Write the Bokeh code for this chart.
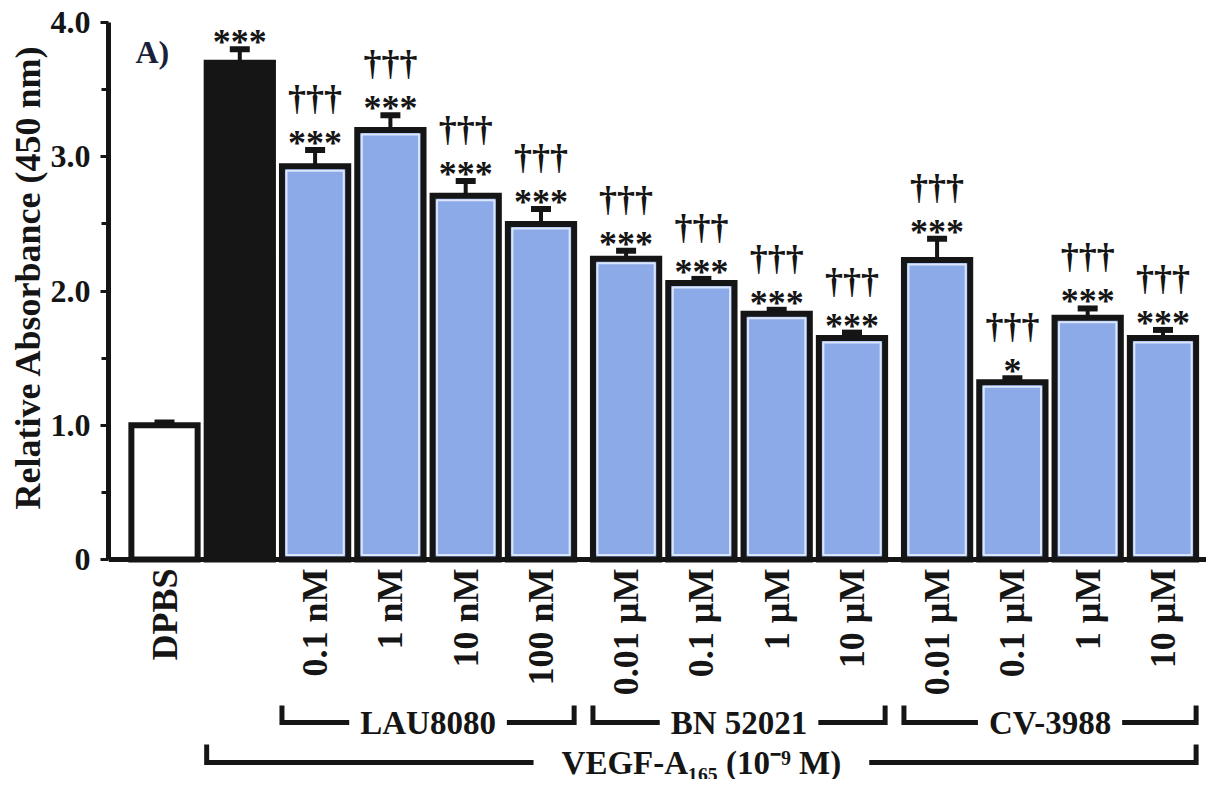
from math import pi
from bokeh.plotting import figure
from bokeh.models import (Range1d, FixedTicker, ColumnDataSource, Whisker, TeeHead,
                          Label, Span, PrintfTickFormatter, Title)
from bokeh.embed import file_html
from bokeh.resources import INLINE

# ---------------- data ----------------
labels = ["DPBS", "", "0.1 nM", "1 nM", "10 nM", "100 nM",
          "0.01 µM", "0.1 µM", "1 µM", "10 µM",
          "0.01 µM", "0.1 µM", "1 µM", "10 µM"]
groups = ["DPBS", "VEGF", "LAU8080", "LAU8080", "LAU8080", "LAU8080",
          "BN 52021", "BN 52021", "BN 52021", "BN 52021",
          "CV-3988", "CV-3988", "CV-3988", "CV-3988"]
means = [1.00, 3.70, 2.93, 3.20, 2.71, 2.50, 2.24, 2.06, 1.83, 1.65, 2.23, 1.32, 1.80, 1.65]
sems = [0.02, 0.10, 0.12, 0.11, 0.11, 0.11, 0.06, 0.03, 0.03, 0.04, 0.16, 0.03, 0.07, 0.06]
stars = ["", "***", "***", "***", "***", "***", "***", "***", "***", "***", "***", "*", "***", "***"]
daggers = ["", "", "†††", "†††", "†††", "†††", "†††", "†††", "†††", "†††", "†††", "†††", "†††", "†††"]
antagonists = ["LAU8080", "BN 52021", "CV-3988"]
vegf_title = "VEGF-A₁₆₅ (10⁻⁹ M)"
y_title = "Relative Absorbance (450 nm)"
panel_tag = "A)"
y_ticks = [0, 1, 2, 3, 4]
y_minor = [0.5, 1.5, 2.5, 3.5]

# ---------------- layout constants ----------------
FONT = "Liberation Serif"
INK = "#151515"
BLUE = "#8ca9e8"
GROUP_GAP = 0.13
W, H = 1206, 779
BORDER_L = 108
PX_X = 75.3
PX_Y = 134.25
X0 = -56 / PX_X
X1 = X0 + (W - BORDER_L) / PX_X
Y1 = 4 + 22 / PX_Y
Y0 = Y1 - H / PX_Y

# bar positions from group structure
xs = []
pos = 0.0
for i, g in enumerate(groups):
    if i > 0:
        pos += 1.0
        if g != groups[i - 1] and groups[i - 1] in antagonists:
            pos += GROUP_GAP
    xs.append(pos)

fills = ["white" if g == "DPBS" else (INK if g == "VEGF" else BLUE) for g in groups]
upper = [m + s for m, s in zip(means, sems)]

src = ColumnDataSource(dict(x=xs, top=means, upper=upper, fill=fills,
                            stars=stars, daggers=daggers, label=labels))

p = figure(width=W, height=H, x_range=Range1d(X0, X1), y_range=Range1d(Y0, Y1),
           x_axis_location=None, toolbar_location=None, output_backend="svg",
           min_border_left=BORDER_L, min_border_right=0, min_border_top=0,
           min_border_bottom=0, outline_line_color=None)
p.grid.visible = False
p.background_fill_color = "white"

BAR_W = 0.88
p.vbar(x="x", top="top", bottom=0, width=BAR_W, source=src, fill_color="fill",
       line_color=INK, line_width=6, line_join="miter")

# thin pale inner rim on the blue bars
blue_idx = [i for i, g in enumerate(groups) if g in antagonists]
rim = ColumnDataSource(dict(x=[xs[i] for i in blue_idx],
                            top=[means[i] - 4.5 / PX_Y for i in blue_idx]))
p.vbar(x="x", top="top", bottom=4.5 / PX_Y, width=BAR_W - 9 / PX_X, source=rim,
       fill_color=None, line_color="#dce6fa", line_width=2)

# error bars (upper only)
p.add_layout(Whisker(source=src, base="x", lower="top", upper="upper",
                     line_color=INK, line_width=4,
                     upper_head=TeeHead(size=20, line_width=6, line_color=INK),
                     lower_head=None))

# significance marks
p.text(x="x", y="upper", text="stars", source=src, text_align="center",
       text_baseline="alphabetic", y_offset=-7, text_font=FONT,
       text_font_style="bold", text_font_size="36px", text_color=INK)
p.text(x="x", y="upper", text="daggers", source=src, text_align="center",
       text_baseline="alphabetic", y_offset=-52, text_font=FONT,
       text_font_style="bold", text_font_size="36px", text_color=INK)

# x axis line and rotated category labels
p.add_layout(Span(location=0, dimension="width", line_color=INK, line_width=5))
p.text(x="x", y=0, text="label", source=src, angle=pi / 2, text_align="right",
       text_baseline="middle", y_offset=9, text_font=FONT, text_font_style="bold",
       text_font_size="36px", text_color=INK)

# brackets
LAU_LINE, LAU_TOP = -163 / PX_Y, -146 / PX_Y
VEGF_LINE, VEGF_TOP = -203 / PX_Y, -185 / PX_Y
EDGE = 0.44
bx, by = [], []
for a in antagonists:
    gx = [x for x, g in zip(xs, groups) if g == a]
    x0, x1 = gx[0] - EDGE, gx[-1] + EDGE
    bx.append([x0, x0, x1, x1])
    by.append([LAU_TOP, LAU_LINE, LAU_LINE, LAU_TOP])
vx = [x for x, g in zip(xs, groups) if g != "DPBS"]
v0, v1 = vx[0] - EDGE, vx[-1] + EDGE
bx.append([v0, v0, v1, v1])
by.append([VEGF_TOP, VEGF_LINE, VEGF_LINE, VEGF_TOP])
p.multi_line(xs=bx, ys=by, line_color=INK, line_width=5, line_join="miter")

for a, xx in zip(antagonists, bx[:3]):
    p.add_layout(Label(x=(xx[0] + xx[-1]) / 2, y=LAU_LINE, text=a, text_align="center",
                       text_baseline="middle", text_font=FONT, text_font_style="bold",
                       text_font_size="33px", text_color=INK,
                       background_fill_color="white", padding=(11, 0)))
p.add_layout(Label(x=(v0 + v1) / 2, y=VEGF_LINE, text=vegf_title, text_align="center",
                   text_baseline="middle", text_font=FONT, text_font_style="bold",
                   text_font_size="33px", text_color=INK,
                   background_fill_color="white", padding=(28, 0)))

# y axis
ax = p.yaxis[0]
ax.bounds = (0, 4)
ax.ticker = FixedTicker(ticks=y_ticks, minor_ticks=y_minor)
ax.formatter = PrintfTickFormatter(format="%.1f")
ax.major_label_overrides = {0: "0"}
ax.axis_line_width = 5
ax.axis_line_color = INK
ax.major_tick_line_width = 3
ax.major_tick_line_color = INK
ax.minor_tick_line_width = 3
ax.minor_tick_line_color = INK
ax.major_tick_in = 0
ax.major_tick_out = 8
ax.minor_tick_in = 0
ax.minor_tick_out = 7
ax.major_label_standoff = 10
ax.major_label_text_font = FONT
ax.major_label_text_font_style = "bold"
ax.major_label_text_font_size = "32px"
ax.major_label_text_color = INK

p.add_layout(Title(text=y_title, align="right", offset=44, standoff=0,
                   text_font=FONT, text_font_style="bold", text_font_size="36px",
                   text_color=INK), "left")
p.add_layout(Label(x=-29 / PX_X, y=3.78, text=panel_tag, text_align="left",
                   text_baseline="alphabetic", text_font=FONT, text_font_style="bold",
                   text_font_size="32px", text_color="#1c1f3a"))

open("out.html", "w").write(file_html(p, INLINE))
